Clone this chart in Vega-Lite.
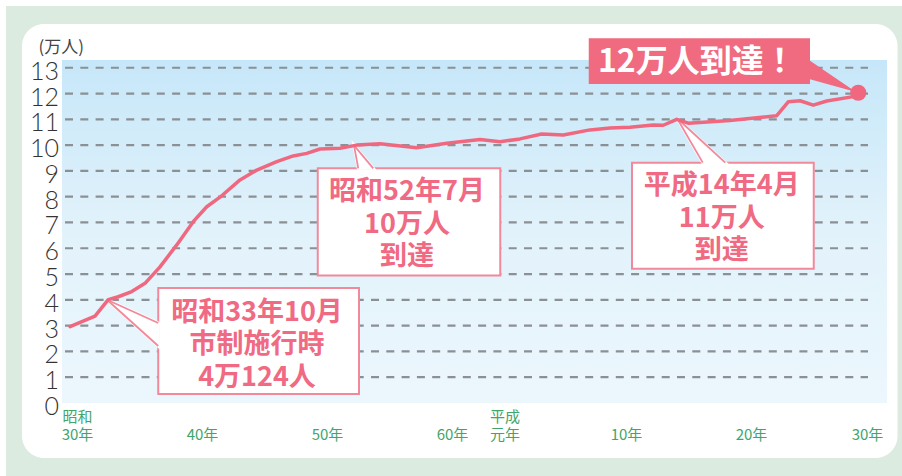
{
  "$schema": "https://vega.github.io/schema/vega-lite/v6.json",
  "width": 825,
  "height": 343,
  "autosize": "none",
  "padding": {"left": 62, "top": 60, "right": 15, "bottom": 73},
  "background": "white",
  "config": {"view": {"stroke": null}},
  "datasets": {
    "pop": [
      {"year": 1955.0, "pop": 2.96}, {"year": 1957.0, "pop": 3.37}, {"year": 1958.06, "pop": 4.01},
      {"year": 1958.86, "pop": 4.12}, {"year": 1959.94, "pop": 4.32}, {"year": 1961.0, "pop": 4.64},
      {"year": 1962.2, "pop": 5.28}, {"year": 1963.54, "pop": 6.13}, {"year": 1964.86, "pop": 7.03},
      {"year": 1965.94, "pop": 7.61}, {"year": 1967.0, "pop": 7.98}, {"year": 1968.6, "pop": 8.65},
      {"year": 1969.94, "pop": 9.03}, {"year": 1971.54, "pop": 9.36}, {"year": 1972.86, "pop": 9.58},
      {"year": 1973.94, "pop": 9.68}, {"year": 1975.0, "pop": 9.85}, {"year": 1976.6, "pop": 9.88},
      {"year": 1977.94, "pop": 10.0}, {"year": 1979.8, "pop": 10.05}, {"year": 1982.74, "pop": 9.9},
      {"year": 1985.14, "pop": 10.07}, {"year": 1987.8, "pop": 10.22}, {"year": 1989.4, "pop": 10.13},
      {"year": 1991.0, "pop": 10.24}, {"year": 1992.74, "pop": 10.43}, {"year": 1994.46, "pop": 10.39},
      {"year": 1996.6, "pop": 10.59}, {"year": 1998.2, "pop": 10.66}, {"year": 1999.8, "pop": 10.69},
      {"year": 2001.66, "pop": 10.78}, {"year": 2002.46, "pop": 10.77}, {"year": 2003.54, "pop": 11.0},
      {"year": 2004.46, "pop": 10.85}, {"year": 2007.8, "pop": 10.95}, {"year": 2011.54, "pop": 11.14},
      {"year": 2012.46, "pop": 11.68}, {"year": 2013.4, "pop": 11.72}, {"year": 2014.46, "pop": 11.55},
      {"year": 2015.54, "pop": 11.71}, {"year": 2017.66, "pop": 11.88}, {"year": 2018.06, "pop": 12.03}
    ],
    "grid": [{"v": 0}, {"v": 1}, {"v": 2}, {"v": 3}, {"v": 4}, {"v": 5}, {"v": 6}, {"v": 7}, {"v": 8}, {"v": 9}, {"v": 10}, {"v": 11}, {"v": 12}, {"v": 13}],
    "boxes": [
      {"c": "a", "x1": 1962.06, "x2": 1978.12, "y1": 0.35, "y2": 4.46, "tx": 1969.96, "ty": 2.36, "t": "昭和33年10月\n市制施行時\n4万124人"},
      {"c": "b", "x1": 1974.82, "x2": 1989.42, "y1": 4.94, "y2": 9.10, "tx": 1981.96, "ty": 7.03, "t": "昭和52年7月\n10万人\n到達"},
      {"c": "c", "x1": 1999.96, "x2": 2014.5, "y1": 5.21, "y2": 9.32, "tx": 2007.14, "ty": 7.26, "t": "平成14年4月\n11万人\n到達"}
    ],
    "hw": [
      {"c": "a", "x": 1957.96, "lo": 4.005, "hi": 4.005},
      {"c": "a", "x": 1962.06, "lo": 2.21, "hi": 3.10}
    ],
    "vw": [
      {"c": "b", "y": 9.99, "lo": 1977.72, "hi": 1977.72},
      {"c": "b", "y": 9.10, "lo": 1978.06, "hi": 1979.26},
      {"c": "c", "y": 11.04, "lo": 2003.56, "hi": 2003.56},
      {"c": "c", "y": 9.32, "lo": 2005.62, "hi": 2007.42}
    ],
    "pinkbox": [{"x1": 1996.5, "x2": 2014.2, "y1": 12.37, "y2": 14.14, "tx": 2005.14, "ty": 13.24, "t": "12万人到達！"}],
    "pinkwedge": [
      {"x": 2014.2, "lo": 12.55, "hi": 13.27},
      {"x": 2017.88, "lo": 12.06, "hi": 12.06}
    ]
  },
  "layer": [
    {
      "data": {"values": [{}]},
      "mark": {"type": "rect", "color": "#dcebdf"},
      "encoding": {
        "x": {
          "datum": 1949.88, "type": "quantitative",
          "scale": {"domain": [1954.36, 2020.36], "nice": false, "zero": false},
          "axis": {
            "title": null, "domain": false, "ticks": false, "grid": false, "zindex": 2,
            "values": [1955, 1965, 1975, 1985, 1989, 1998, 2008, 2018],
            "labelExpr": "datum.value == 1955 ? ['昭和', '30年'] : datum.value == 1989 ? ['平成', '元年'] : datum.value < 1989 ? [' ', (datum.value - 1925) + '年'] : [' ', (datum.value - 1988) + '年']",
            "labelOffset": {"expr": "datum.value >= 1998 && datum.value <= 2008 ? 18.5 : datum.value >= 1989 ? 9.5 : 7"},
            "labelFont": "Noto Sans CJK JP", "labelFontSize": 15, "labelColor": "#3fa66b",
            "labelLineHeight": 18, "labelBaseline": "top", "labelPadding": 6,
            "labelFlush": false, "labelOverlap": false, "labelBound": false
          }
        },
        "x2": {"datum": 2023.5},
        "y": {
          "datum": 15.39, "type": "quantitative",
          "scale": {"domain": [0, 13.3], "nice": false, "zero": false},
          "axis": {
            "title": "(万人)", "titleAngle": 0, "titleAlign": "left", "titleBaseline": "middle",
            "titleX": -24, "titleY": -13, "titleFont": "Noto Sans CJK JP", "titleFontSize": 17,
            "titleFontWeight": "normal", "titleColor": "#444444",
            "domain": false, "ticks": false, "grid": false, "labels": false, "zindex": 2
          }
        },
        "y2": {"datum": -3.3}
      }
    },
    {
      "data": {"values": [{}]},
      "mark": {"type": "rect", "color": "white", "cornerRadius": 22},
      "encoding": {
        "x": {"datum": 1951.16, "type": "quantitative"},
        "x2": {"datum": 2021.2},
        "y": {"datum": 14.70, "type": "quantitative"},
        "y2": {"datum": -2.13}
      }
    },
    {
      "data": {"values": [{}]},
      "mark": {"type": "rect", "color": {"gradient": "linear", "x1": 0, "y1": 0, "x2": 0, "y2": 1,
        "stops": [{"offset": 0, "color": "#c6e7f9"}, {"offset": 0.5, "color": "#e2f2fb"}, {"offset": 1, "color": "#ecf7fd"}]}},
      "encoding": {
        "x": {"datum": 1954.36, "type": "quantitative"},
        "x2": {"datum": 2020.36},
        "y": {"datum": 0, "type": "quantitative"},
        "y2": {"datum": 13.3}
      }
    },
    {
      "data": {"name": "grid"},
      "transform": [{"filter": "datum.v > 0"}],
      "mark": {"type": "rule", "color": "#8b9094", "strokeWidth": 2.2, "strokeDash": [8, 7.3]},
      "encoding": {
        "x": {"datum": 1954.6, "type": "quantitative"},
        "x2": {"datum": 2018.84},
        "y": {"field": "v", "type": "quantitative"}
      }
    },
    {
      "data": {"name": "grid"},
      "mark": {"type": "text", "font": "Lato", "fontWeight": 300, "fontSize": 25, "color": "#333333", "align": "right", "baseline": "middle", "dy": 4},
      "encoding": {
        "x": {"datum": 1954.12, "type": "quantitative"},
        "y": {"field": "v", "type": "quantitative"},
        "text": {"field": "v"}
      }
    },
    {
      "data": {"name": "boxes"},
      "mark": {"type": "rect", "fill": "white", "stroke": "#f2899a", "strokeWidth": 2},
      "encoding": {
        "x": {"field": "x1", "type": "quantitative"},
        "x2": {"field": "x2"},
        "y": {"field": "y1", "type": "quantitative"},
        "y2": {"field": "y2"}
      }
    },
    {
      "data": {"name": "hw"},
      "mark": {"type": "area", "fill": "white", "stroke": "white", "strokeWidth": 3},
      "encoding": {
        "x": {"field": "x", "type": "quantitative"},
        "y": {"field": "lo", "type": "quantitative"},
        "y2": {"field": "hi"},
        "detail": {"field": "c"}
      }
    },
    {
      "data": {"name": "hw"},
      "mark": {"type": "line", "color": "#f2899a", "strokeWidth": 1.8},
      "encoding": {
        "x": {"field": "x", "type": "quantitative"},
        "y": {"field": "lo", "type": "quantitative"},
        "detail": {"field": "c"}
      }
    },
    {
      "data": {"name": "hw"},
      "mark": {"type": "line", "color": "#f2899a", "strokeWidth": 1.8},
      "encoding": {
        "x": {"field": "x", "type": "quantitative"},
        "y": {"field": "hi", "type": "quantitative"},
        "detail": {"field": "c"}
      }
    },
    {
      "data": {"name": "vw"},
      "mark": {"type": "area", "orient": "horizontal", "fill": "white", "stroke": "white", "strokeWidth": 3},
      "encoding": {
        "y": {"field": "y", "type": "quantitative"},
        "x": {"field": "lo", "type": "quantitative"},
        "x2": {"field": "hi"},
        "detail": {"field": "c"}
      }
    },
    {
      "data": {"name": "vw"},
      "mark": {"type": "line", "color": "#f2899a", "strokeWidth": 1.8},
      "encoding": {
        "y": {"field": "y", "type": "quantitative"},
        "x": {"field": "lo", "type": "quantitative"},
        "detail": {"field": "c"}
      }
    },
    {
      "data": {"name": "vw"},
      "mark": {"type": "line", "color": "#f2899a", "strokeWidth": 1.8},
      "encoding": {
        "y": {"field": "y", "type": "quantitative"},
        "x": {"field": "hi", "type": "quantitative"},
        "detail": {"field": "c"}
      }
    },
    {
      "data": {"name": "pinkwedge"},
      "mark": {"type": "area", "color": "#f06a80"},
      "encoding": {
        "x": {"field": "x", "type": "quantitative"},
        "y": {"field": "lo", "type": "quantitative"},
        "y2": {"field": "hi"}
      }
    },
    {
      "data": {"name": "pinkbox"},
      "mark": {"type": "rect", "color": "#f06a80"},
      "encoding": {
        "x": {"field": "x1", "type": "quantitative"},
        "x2": {"field": "x2"},
        "y": {"field": "y1", "type": "quantitative"},
        "y2": {"field": "y2"}
      }
    },
    {
      "data": {"name": "pop"},
      "mark": {"type": "line", "color": "#f0687f", "strokeWidth": 3.5, "strokeCap": "round", "strokeJoin": "round"},
      "encoding": {
        "x": {"field": "year", "type": "quantitative"},
        "y": {"field": "pop", "type": "quantitative"}
      }
    },
    {
      "data": {"name": "pop"},
      "transform": [{"filter": "datum.year > 2018"}],
      "mark": {"type": "point", "filled": true, "color": "#f0687f", "opacity": 1, "size": 260},
      "encoding": {
        "x": {"field": "year", "type": "quantitative"},
        "y": {"field": "pop", "type": "quantitative"}
      }
    },
    {
      "data": {"name": "boxes"},
      "mark": {"type": "text", "font": "Noto Sans CJK JP", "fontSize": 27, "fontWeight": "bold", "color": "#ef6a82", "lineBreak": "\n", "lineHeight": 32.5, "dy": -29.5, "align": "center", "baseline": "middle"},
      "encoding": {
        "x": {"field": "tx", "type": "quantitative"},
        "y": {"field": "ty", "type": "quantitative"},
        "text": {"field": "t"}
      }
    },
    {
      "data": {"name": "pinkbox"},
      "mark": {"type": "text", "font": "Noto Sans CJK JP", "fontSize": 32, "fontWeight": "bold", "color": "white", "align": "center", "baseline": "middle"},
      "encoding": {
        "x": {"field": "tx", "type": "quantitative"},
        "y": {"field": "ty", "type": "quantitative"},
        "text": {"field": "t"}
      }
    }
  ]
}
